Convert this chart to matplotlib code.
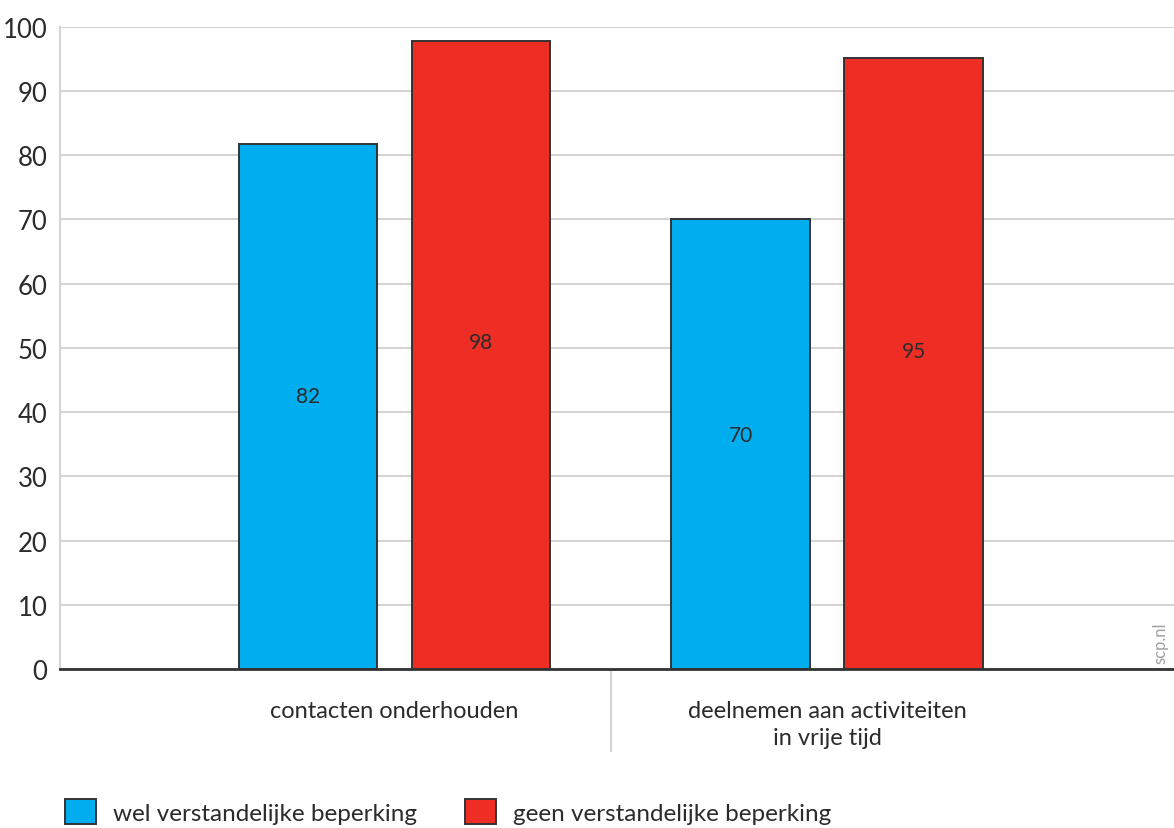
import matplotlib
matplotlib.use("Agg")
import matplotlib.pyplot as plt
from matplotlib.patches import Patch
import numpy as np

plt.rcParams['font.family'] = ['Liberation Sans Narrow', 'Lato', 'DejaVu Sans']

# data
categories = ["contacten onderhouden", "deelnemen aan activiteiten\nin vrije tijd"]
series_names = ["wel verstandelijke beperking", "geen verstandelijke beperking"]
wel = [81.8, 70.0]
geen = [97.8, 95.2]
wel_labels = ["82", "70"]
geen_labels = ["98", "95"]
yticks = [0, 10, 20, 30, 40, 50, 60, 70, 80, 90, 100]

blue = "#00AEEF"
red = "#EE2E24"
edge = "#333333"
txt = "#2b2b2b"

fig = plt.figure(figsize=(11.74, 8.29), dpi=100)
ax = fig.add_axes([0.0511, 0.1918, 0.9489, 0.7748])

x = np.arange(len(categories))
w = 0.32
b1 = ax.bar(x - 0.2, wel, w, color=blue, edgecolor=edge, linewidth=1.4, zorder=3)
b2 = ax.bar(x + 0.2, geen, w, color=red, edgecolor=edge, linewidth=1.4, zorder=3)

for bars, labs in ((b1, wel_labels), (b2, geen_labels)):
    for bar, lab in zip(bars, labs):
        ax.text(bar.get_x() + bar.get_width() / 2, bar.get_height() * 0.52, lab,
                ha="center", va="center", fontsize=15, color=txt, zorder=4)

ax.set_xlim(-0.773, 1.802)
ax.set_ylim(0, 100)
ax.set_yticks(yticks)
ax.tick_params(axis="y", length=0, pad=9, labelsize=18.5, labelcolor=txt)
ax.set_xticks(x)
ax.set_xticklabels(categories, fontsize=17, color=txt, linespacing=1.35)
ax.tick_params(axis="x", length=0, pad=22)

ax.yaxis.grid(True, color="#d4d4d4", linewidth=1.5, zorder=0)
ax.set_axisbelow(True)
for s in ("top", "right"):
    ax.spines[s].set_visible(False)
ax.spines["left"].set_color("#d4d4d4")
ax.spines["left"].set_linewidth(1.5)
ax.spines["bottom"].set_color(edge)
ax.spines["bottom"].set_linewidth(2)
ax.spines["bottom"].set_zorder(5)

# separator between categories
ax.axvline(0.5, ymin=-0.128, ymax=0, color="#d4d4d4", linewidth=1.5, clip_on=False)

ax.text(0.988, 0.01, "scp.nl", transform=ax.transAxes, rotation=90,
        ha="center", va="bottom", fontsize=12, color="#a0a0a0")

handles = [Patch(facecolor=blue, edgecolor=edge, linewidth=1.4),
           Patch(facecolor=red, edgecolor=edge, linewidth=1.4)]
fig.legend(handles, series_names, loc="lower left", bbox_to_anchor=(0.037, -0.022),
           ncol=2, frameon=False, fontsize=17.5, handlelength=1.25, handleheight=1.2,
           columnspacing=2.0, handletextpad=0.7, labelcolor=txt)

fig.savefig("out.png", dpi=100)
